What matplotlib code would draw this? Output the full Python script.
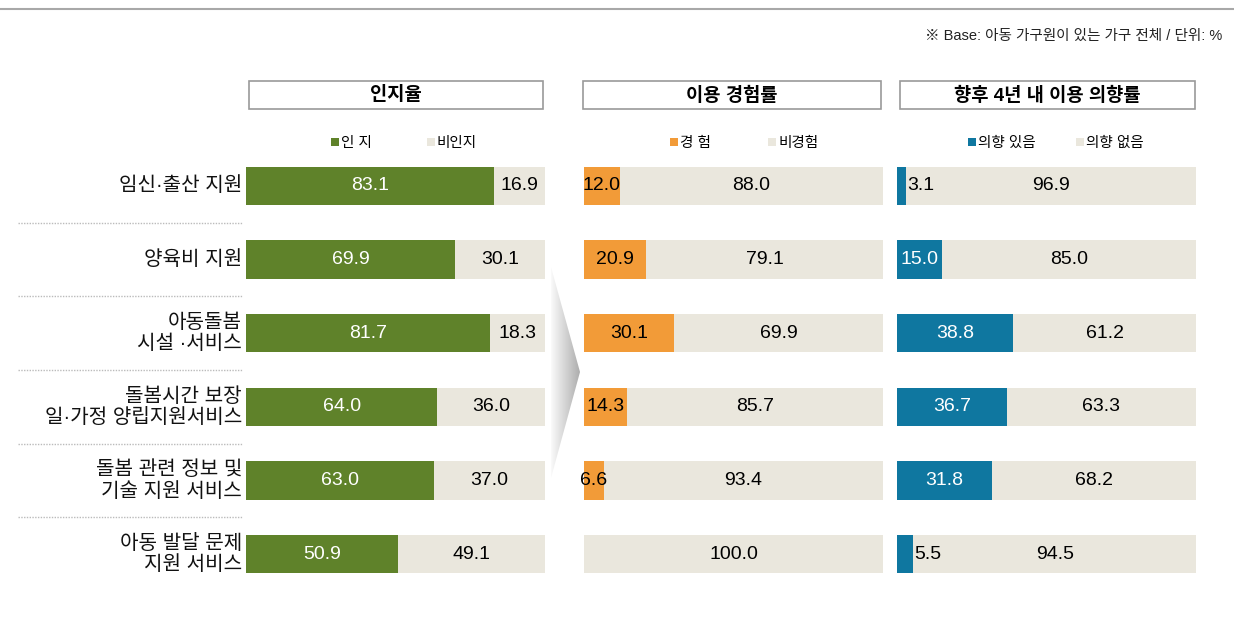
import numpy as np
import matplotlib
matplotlib.use('Agg')
import matplotlib.pyplot as plt
from matplotlib.patches import Rectangle, Polygon

plt.rcParams['font.family'] = ['Liberation Sans', 'Noto Sans CJK KR']

# data (%)
categories = ['임신·출산 지원', '양육비 지원', '아동돌봄\n시설 ·서비스',
              '돌봄시간 보장\n일·가정 양립지원서비스', '돌봄 관련 정보 및\n기술 지원 서비스',
              '아동 발달 문제\n지원 서비스']
aware = [83.1, 69.9, 81.7, 64.0, 63.0, 50.9]
unaware = [16.9, 30.1, 18.3, 36.0, 37.0, 49.1]
used = [12.0, 20.9, 30.1, 14.3, 6.6, 0.0]
unused = [88.0, 79.1, 69.9, 85.7, 93.4, 100.0]
intent_yes = [3.1, 15.0, 38.8, 36.7, 31.8, 5.5]
intent_no = [96.9, 85.0, 61.2, 63.3, 68.2, 94.5]

panel_titles = ['인지율', '이용 경험률', '향후 4년 내 이용 의향률']
legend_labels = [('인 지', '비인지'), ('경 험', '비경험'), ('의향 있음', '의향 없음')]

GREEN = '#5F822A'
ORANGE = '#F29B38'
BLUE = '#0F77A0'
BEIGE = '#EAE7DD'

W, H = 1234, 624
fig = plt.figure(figsize=(W / 100, H / 100), dpi=100)

# background axes in pixel coords for decorations
bg = fig.add_axes([0, 0, 1, 1], zorder=0)
bg.set_xlim(0, W)
bg.set_ylim(H, 0)
bg.axis('off')

bg.plot([0, W], [9, 9], color='#A8A8A8', lw=1.5)
bg.text(1222, 36, '※ Base: 아동 가구원이 있는 가구 전체 / 단위: %', ha='right', va='center',
        fontsize=10.5, color='#222222')

# gradient arrow between panel 1 and 2
grad = np.linspace(0, 1, 100).reshape(1, -1)
cmap = matplotlib.colors.LinearSegmentedColormap.from_list('g', ['#FAFAFA', '#ADADAD'])
im = bg.imshow(grad, extent=(551, 580, 478, 267), cmap=cmap, aspect='auto', zorder=1)
tri = Polygon([[551, 267], [580, 372], [551, 478]], closed=True, transform=bg.transData,
              facecolor='none', edgecolor='none')
bg.add_patch(tri)
im.set_clip_path(tri)

panel_left = [246, 584, 897]
panel_width = 299
box_x = [(249, 543), (583, 881), (900, 1195)]
legend_off = [(85, 181), (86, 184), (71, 179)]
series = [(aware, unaware, GREEN), (used, unused, ORANGE), (intent_yes, intent_no, BLUE)]

top_px, bot_px = 149, 591
n = len(categories)

for p in range(3):
    x0 = panel_left[p]
    ax = fig.add_axes([x0 / W, 1 - bot_px / H, panel_width / W, (bot_px - top_px) / H], zorder=2)
    ax.set_xlim(0, 100)
    ax.set_ylim(n - 0.5, -0.5)
    ax.axis('off')
    first, second, col = series[p]
    y = np.arange(n)
    ax.barh(y, first, height=0.52, color=col, edgecolor='none')
    ax.barh(y, second, left=first, height=0.52, color=BEIGE, edgecolor='none')
    for i in range(n):
        v1, v2 = first[i], second[i]
        if v1 > 0:
            if v1 < 6:
                ax.text(v1 + 0.3, i, f'{v1:.1f}', ha='left', va='center', fontsize=14, color='black')
            else:
                tc = 'black' if col == ORANGE else 'white'
                ax.text(v1 / 2, i, f'{v1:.1f}', ha='center', va='center', fontsize=14, color=tc)
        ax.text(v1 + v2 / 2, i, f'{v2:.1f}', ha='center', va='center', fontsize=14, color='black')

    # title box
    bx0, bx1 = box_x[p]
    bg.add_patch(Rectangle((bx0, 81), bx1 - bx0, 28, facecolor='white', edgecolor='#9A9A9A', lw=1.2))
    bg.text((bx0 + bx1) / 2, 95.5, panel_titles[p], ha='center', va='center', fontsize=13.5,
            fontweight='bold')

    # legend
    for k, c in enumerate([col, BEIGE]):
        lx = x0 + legend_off[p][k]
        bg.add_patch(Rectangle((lx, 138), 8, 8, facecolor=c, edgecolor='none'))
        bg.text(lx + 10, 142.5, legend_labels[p][k], ha='left', va='center', fontsize=10.5)

    if p == 0:
        for i in range(n):
            ax.text(-1.3, i, categories[i], ha='right', va='center', fontsize=14.5,
                    linespacing=1.15, color='#111111')
        for i in range(n - 1):
            bg.plot([18, 243], [top_px + (i + 1) * (bot_px - top_px) / n] * 2,
                    color='#BBBBBB', lw=1, ls=(0, (1, 1)))

fig.savefig('out.png', dpi=100)
